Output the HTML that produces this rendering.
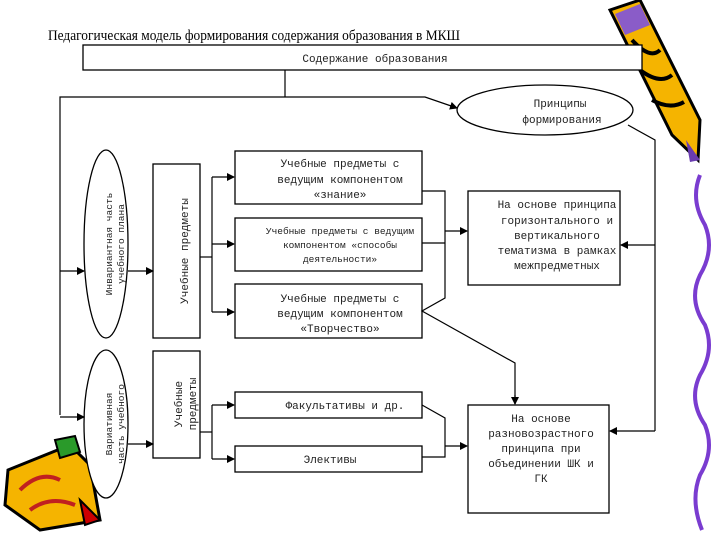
<!DOCTYPE html>
<html><head><meta charset="utf-8"><style>
body{margin:0;background:#fff;}
svg{display:block}
.m{font-family:"Liberation Mono",monospace;font-size:11px;fill:#222}
.s{font-family:"Liberation Mono",monospace;font-size:9.5px;fill:#222}
</style></head><body>
<svg width="720" height="540" viewBox="0 0 720 540" xmlns="http://www.w3.org/2000/svg">
<defs><marker id="a" markerWidth="8" markerHeight="8" refX="7" refY="4" orient="auto" markerUnits="userSpaceOnUse"><path d="M0,0 L8,4 L0,8z" fill="#000"/></marker></defs>
<!-- decorations -->
<g>
<path d="M610,10 L640,0 L700,120 L698,160 L672,135 Z" fill="#f5b400" stroke="#000" stroke-width="3"/>
<path d="M615,14 L640,4 L650,25 L625,35Z" fill="#8a5cc8"/>
<path d="M632,40 Q650,60 660,50 M640,70 Q660,85 672,75 M652,100 Q670,110 684,102" stroke="#000" stroke-width="4" fill="none"/>
<path d="M686,140 L700,160 L690,162Z" fill="#6a3cb0"/>
<path d="M700,175 Q690,200 705,225 Q715,250 700,275 Q688,300 705,325 Q715,350 700,375 Q688,400 705,425 Q715,450 700,475 Q690,500 702,530" stroke="#7a3cd0" stroke-width="4" fill="none"/>
<path d="M8,470 L70,445 L90,465 L100,520 L40,530 L5,505Z" fill="#f5b400" stroke="#000" stroke-width="3"/>
<path d="M55,440 L75,436 L80,452 L60,458Z" fill="#2a9a2a" stroke="#000" stroke-width="2"/>
<path d="M80,500 L100,520 L85,525Z" fill="#c00" stroke="#000" stroke-width="2"/>
<path d="M20,490 Q40,470 60,480 M30,510 Q50,495 75,505" stroke="#c02020" stroke-width="4" fill="none"/>
</g>
<text x="48" y="40" font-family="Liberation Serif,serif" font-size="14.5" textLength="412" lengthAdjust="spacingAndGlyphs">Педагогическая модель формирования содержания образования в МКШ</text>
<g stroke="#000" stroke-width="1.3" fill="#fff">
<rect x="83" y="45" width="559" height="25"/>
<ellipse cx="545" cy="110" rx="88" ry="25"/>
<ellipse cx="106" cy="244" rx="22" ry="94"/>
<ellipse cx="106" cy="424" rx="22" ry="74"/>
<rect x="153" y="164" width="47" height="174"/>
<rect x="153" y="351" width="47" height="107"/>
<rect x="235" y="151" width="187" height="53"/>
<rect x="235" y="218" width="187" height="53"/>
<rect x="235" y="284" width="187" height="54"/>
<rect x="235" y="392" width="187" height="26"/>
<rect x="235" y="446" width="187" height="26"/>
<rect x="468" y="191" width="152" height="94"/>
<rect x="468" y="405" width="141" height="108"/>
</g>
<g stroke="#000" stroke-width="1.2" fill="none">
<path d="M285,70 V97"/>
<path d="M60,415 V97 H425 L457,108" marker-end="url(#a)"/>
<path d="M60,271 H84" marker-end="url(#a)"/>
<path d="M60,417 H84" marker-end="url(#a)"/>
<path d="M128,271 H153" marker-end="url(#a)"/>
<path d="M128,444 H153" marker-end="url(#a)"/>
<path d="M200,257 H212"/>
<path d="M212,177 V312"/>
<path d="M212,177 H234" marker-end="url(#a)"/>
<path d="M212,244 H234" marker-end="url(#a)"/>
<path d="M212,312 H234" marker-end="url(#a)"/>
<path d="M200,432 H212"/>
<path d="M212,405 V459"/>
<path d="M212,405 H234" marker-end="url(#a)"/>
<path d="M212,459 H234" marker-end="url(#a)"/>
<path d="M422,191 H445 V298 L422,311 L515,363 V404" />
<path d="M422,243 H445"/>
<path d="M445,231 H467" marker-end="url(#a)"/>
<path d="M515,395 V404" marker-end="url(#a)"/>
<path d="M422,405 L445,418 V457 H422"/>
<path d="M445,446 H467" marker-end="url(#a)"/>
<path d="M628,125 L655,140 V431"/>
<path d="M655,245 H621" marker-end="url(#a)"/>
<path d="M655,431 H610" marker-end="url(#a)"/>
</g>
<g class="m" text-anchor="middle">
<text x="375" y="62">Содержание образования</text>
<text x="560" y="107">Принципы</text>
<text x="562" y="123">формирования</text>
<text x="340" y="167">Учебные предметы с</text>
<text x="340" y="183">ведущим компонентом</text>
<text x="340" y="198">«знание»</text>
<text class="s" x="340" y="234">Учебные предметы с ведущим</text>
<text class="s" x="340" y="248">компонентом «способы</text>
<text class="s" x="340" y="262">деятельности»</text>
<text x="340" y="302">Учебные предметы с</text>
<text x="340" y="317">ведущим компонентом</text>
<text x="340" y="332">«Творчество»</text>
<text x="345" y="409">Факультативы и др.</text>
<text x="330" y="463">Элективы</text>
<text x="557" y="208">На основе принципа</text>
<text x="557" y="224">горизонтального и</text>
<text x="557" y="239">вертикального</text>
<text x="557" y="254">тематизма в рамках</text>
<text x="557" y="269">межпредметных</text>
<text x="541" y="422">На основе</text>
<text x="541" y="437">разновозрастного</text>
<text x="541" y="452">принципа при</text>
<text x="541" y="467">объединении ШК и</text>
<text x="541" y="482">ГК</text>
<text transform="translate(188,251) rotate(-90)">Учебные предметы</text>
<text transform="translate(182,404) rotate(-90)">Учебные</text>
<text transform="translate(196,404) rotate(-90)">предметы</text>
<text class="s" transform="translate(112,244) rotate(-90)">Инвариантная часть</text>
<text class="s" transform="translate(124,244) rotate(-90)">учебного плана</text>
<text class="s" transform="translate(112,424) rotate(-90)">Вариативная</text>
<text class="s" transform="translate(124,424) rotate(-90)">часть учебного</text>
</g>
</svg>
</body></html>
